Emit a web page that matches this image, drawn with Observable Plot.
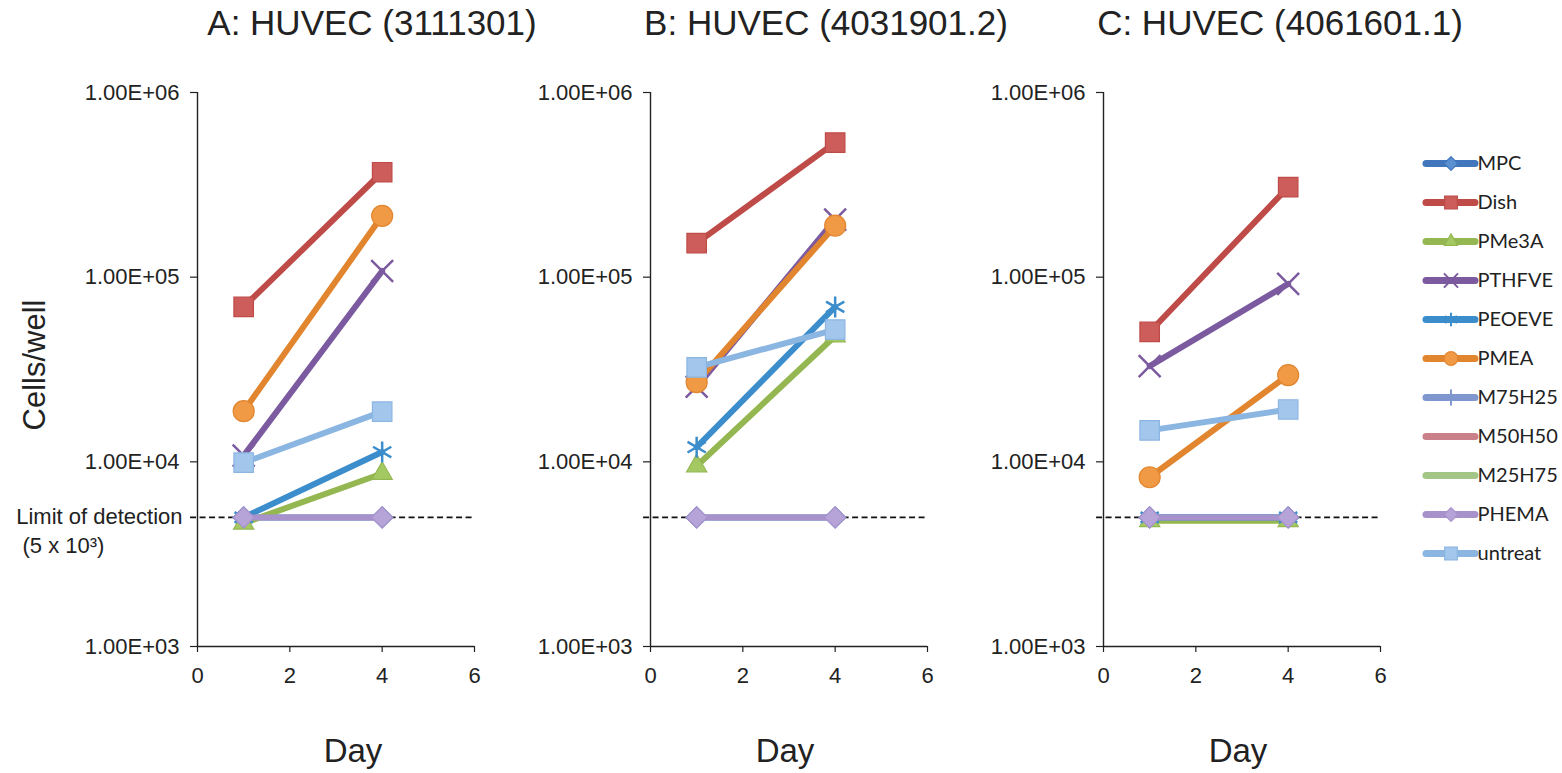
<!DOCTYPE html>
<html>
<head>
<meta charset="utf-8">
<script src="https://cdn.jsdelivr.net/npm/d3@7"></script>
<script src="https://cdn.jsdelivr.net/npm/@observablehq/plot@0.6"></script>
<style>
  body { margin: 0; background: #fff; }
  #wrap { position: relative; width: 1562px; height: 773px; overflow: hidden;
          font-family: "Liberation Sans", Arial, sans-serif; color: #222; background: #fff; }
  .abs { position: absolute; }
  .title { font-size: 35px; line-height: 40px; white-space: nowrap; transform: translateX(-50%); top: 3px; }
  .xlab { font-size: 33px; line-height: 40px; white-space: nowrap; transform: translateX(-50%); top: 731px; }
  .ylab { font-size: 31px; line-height: 40px; white-space: nowrap; left: 35px; top: 365px;
          transform: translate(-50%, -50%) rotate(-90deg); }
  svg { overflow: visible; }
</style>
</head>
<body>
<div id="wrap"></div>
<script>
// ---------- data ----------
const series = ["MPC", "Dish", "PMe3A", "PTHFVE", "PEOEVE", "PMEA", "M75H25", "M50H50", "M25H75", "PHEMA", "untreat"];
const days = [1, 4];
const panelTitles = ["A: HUVEC (3111301)", "B: HUVEC (4031901.2)", "C: HUVEC (4061601.1)"];

// cells/well at day 1 and day 4, in series order (null = not plotted)
const valuesA = [[5000, 5000], [69000, 370000], [4650, 8650], [10800, 108000], [5000, 11300],
                 [18800, 215000], null, null, null, [5000, 5000], [9900, 18700]];
const valuesB = [[5000, 5000], [153000, 535000], [9500, 48000], [25500, 205000], [12000, 69000],
                 [27000, 190000], null, null, null, [5000, 5000], [32500, 52000]];
const valuesC = [[5000, 5000], [50500, 307000], [4800, 4800], [33000, 92000], [5000, 5000],
                 [8250, 29500], null, null, null, [5000, 5000], [14800, 19200]];

const limitOfDetection = 5000;
const yTicks = [1e3, 1e4, 1e5, 1e6];
const yTickLabels = ["1.00E+03", "1.00E+04", "1.00E+05", "1.00E+06"];
const xTicks = [0, 2, 4, 6];
const xTickLabels = ["0", "2", "4", "6"];
const xLabel = "Day";
const yLabel = "Cells/well";
const limitText = ["Limit of detection", "(5 x 10\u00B3)"];

// ---------- styles ----------
const lineColors = ["#4176bd", "#be4b48", "#94b752", "#7b5a9f", "#3b8dcb", "#e2852f", "#7f96cf", "#c98088", "#a3c585", "#a892cc", "#8cb6e2"];
const markerFills = ["#5a8fd0", "#cd5d5a", "#a4c862", "#8a6cae", "#4a9ad6", "#f09a46", "#8fa5d9", "#d5939a", "#b4d398", "#b6a4d9", "#a2c6ec"];
const symbols = ["diamond2", "square", "triangle", "times", "asterisk", "circle", "plus", null, null, "diamond2", "square"];
const markerR = [9.5, 11, 7.5, 10, 10, 10.5, 8, 0, 0, 9.5, 11];
const strokeOnlySymbols = ["times", "asterisk", "plus"];

const font = "'Liberation Sans', Arial, sans-serif";
const wrap = document.getElementById("wrap");

function rowsFor(values, s, i) {
  const v = values[i];
  if (!v) return [];
  return days.map((d, j) => ({series: s, day: d, value: v[j]}));
}

function panel(values, idx) {
  const marks = [];
  marks.push(Plot.ruleY([limitOfDetection], {x1: -0.15, x2: 6, stroke: "#111", strokeWidth: 1.6, strokeDasharray: "6,3.5", clip: false}));
  marks.push(Plot.ruleX([0], {stroke: "#222", strokeWidth: 1.4}));
  marks.push(Plot.ruleY([1e3], {stroke: "#222", strokeWidth: 1.4}));
  marks.push(Plot.axisY({ticks: yTicks, tickFormat: d => yTickLabels[yTicks.indexOf(d)], tickSize: 7,
    tickPadding: 11, fontSize: 22, stroke: "#222", strokeWidth: 1.2, label: null, fill: "#222"}));
  marks.push(Plot.axisX({ticks: xTicks, tickFormat: d => xTickLabels[xTicks.indexOf(d)], tickSize: 6,
    tickPadding: 15, fontSize: 22, stroke: "#222", strokeWidth: 1.2, label: null, fill: "#222"}));
  if (idx === 0) {
    marks.push(Plot.text([limitOfDetection], {y: d => d, frameAnchor: "left", text: () => limitText[0],
      dx: -15, textAnchor: "end", fontSize: 22, fill: "#222"}));
    marks.push(Plot.text([limitOfDetection], {y: d => d, frameAnchor: "left", text: () => limitText[1],
      dx: -175, dy: 29, textAnchor: "start", fontSize: 22, fill: "#222"}));
  }
  series.forEach((s, i) => {
    const rows = rowsFor(values, s, i);
    if (!rows.length) return;
    marks.push(Plot.line(rows, {x: "day", y: "value", stroke: lineColors[i], strokeWidth: 6, strokeLinecap: "round"}));
    if (symbols[i]) {
      const strokeOnly = strokeOnlySymbols.includes(symbols[i]);
      marks.push(Plot.dot(rows, {x: "day", y: "value", symbol: () => symbols[i], r: markerR[i],
        fill: strokeOnly ? "none" : markerFills[i], stroke: lineColors[i],
        strokeWidth: strokeOnly ? 2.5 : 1.2}));
    }
  });
  return Plot.plot({
    width: 480, height: 773,
    marginLeft: 197, marginRight: 6, marginTop: 92, marginBottom: 127,
    x: {domain: [0, 6]},
    y: {type: "log", domain: [1e3, 1e6]},
    symbol: {type: "identity"},
    style: {fontFamily: font, fontSize: "22px", color: "#222", background: "transparent", overflow: "visible"},
    marks
  });
}

const panelValues = [valuesA, valuesB, valuesC];
const panelLeft = [0, 453, 906];
const titleCenters = [372, 826, 1280];
const xlabCenters = [353, 785, 1238];

panelValues.forEach((vals, k) => {
  const svg = panel(vals, k);
  svg.classList.add("abs");
  svg.style.left = panelLeft[k] + "px";
  svg.style.top = "0px";
  wrap.appendChild(svg);
  const t = document.createElement("div");
  t.className = "abs title"; t.style.left = titleCenters[k] + "px"; t.textContent = panelTitles[k];
  wrap.appendChild(t);
  const xl = document.createElement("div");
  xl.className = "abs xlab"; xl.style.left = xlabCenters[k] + "px"; xl.textContent = xLabel;
  wrap.appendChild(xl);
});

const yl = document.createElement("div");
yl.className = "abs ylab"; yl.textContent = yLabel;
wrap.appendChild(yl);

// ---------- legend ----------
const legendMarks = [
  Plot.ruleY(series, {y: d => d, x1: 0, x2: 1, stroke: (d, i) => lineColors[i], strokeWidth: 7, strokeLinecap: "round"})
];
series.forEach((s, i) => {
  if (!symbols[i]) return;
  const strokeOnly = strokeOnlySymbols.includes(symbols[i]);
  legendMarks.push(Plot.dot([s], {x: 0.5, y: d => d, symbol: () => symbols[i], r: markerR[i] * 0.65,
    fill: strokeOnly ? "none" : markerFills[i], stroke: lineColors[i], strokeWidth: strokeOnly ? 2 : 1.2}));
});
legendMarks.push(Plot.text(series, {x: 1, y: d => d, text: d => d, dx: 2, textAnchor: "start", fontSize: 20, fill: "#222"}));

const legend = Plot.plot({
  width: 142, height: 520,
  marginLeft: 0, marginRight: 0, marginTop: 0, marginBottom: 0,
  x: {domain: [0, 1], range: [6, 55], axis: null},
  y: {type: "point", domain: series, range: [32, 464], axis: null},
  symbol: {type: "identity"},
  style: {fontFamily: "Lato, 'Open Sans', sans-serif", fontSize: "20px", background: "transparent", overflow: "visible"},
  marks: legendMarks
});
legend.classList.add("abs");
legend.style.left = "1420px";
legend.style.top = "110px";
wrap.appendChild(legend);
</script>
</body>
</html>
